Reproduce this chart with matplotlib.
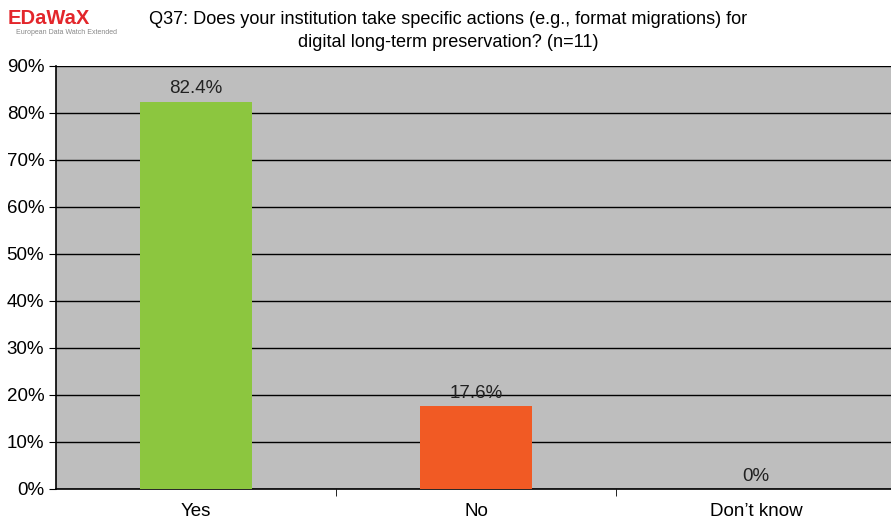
import matplotlib.pyplot as plt
from matplotlib.ticker import FixedLocator, PercentFormatter

# 数据
categories = ['Yes', 'No', 'Don’t know']
values = [82.4, 17.6, 0.0]
labels = ['82.4%', '17.6%', '0%']
colors = ['#8CC63F', '#F15A24', '#F15A24']

plt.rcParams['font.family'] = ['Liberation Sans', 'DejaVu Sans']

fig = plt.figure(figsize=(8.91, 5.19), dpi=100)
ax = fig.add_axes([0.063, 0.058, 0.943, 0.815])
ax.set_facecolor('#BEBEBE')

x = range(len(categories))
ax.bar(x, values, width=0.4, color=colors, zorder=3)

for i, (v, t) in enumerate(zip(values, labels)):
    ax.text(i, v + 0.9, t, ha='center', va='bottom', fontsize=13.5, color='#222222', zorder=4)

ax.set_xlim(-0.5, len(categories) - 0.5)
ax.set_ylim(0, 90)
ax.set_yticks(range(0, 91, 10))
ax.yaxis.set_major_formatter(PercentFormatter(decimals=0))
ax.yaxis.grid(True, color='black', linewidth=1, zorder=1)
ax.set_xticks(list(x))
ax.set_xticklabels(categories, fontsize=13.5)
ax.xaxis.set_minor_locator(FixedLocator([0.5, 1.5]))
ax.tick_params(axis='x', which='major', length=0, pad=10)
ax.tick_params(axis='x', which='minor', length=5, direction='out')
ax.tick_params(axis='y', labelsize=13.5, length=5, direction='out')

for s in ['top', 'right']:
    ax.spines[s].set_visible(False)
ax.spines['left'].set_linewidth(1.2)
ax.spines['bottom'].set_linewidth(1.2)

fig.text(0.503, 0.978, 'Q37: Does your institution take specific actions (e.g., format migrations) for\n'
         'digital long-term preservation? (n=11)', ha='center', va='top', fontsize=13.1,
         linespacing=1.45)

# logo
fig.text(0.008, 0.965, 'EDaWaX', color='#E3262B', fontsize=14.5, fontweight='semibold', va='center', ha='left')
fig.text(0.018, 0.938, 'European Data Watch Extended', color='#888888', fontsize=5, va='center', ha='left')

fig.savefig('out.png', dpi=100)
